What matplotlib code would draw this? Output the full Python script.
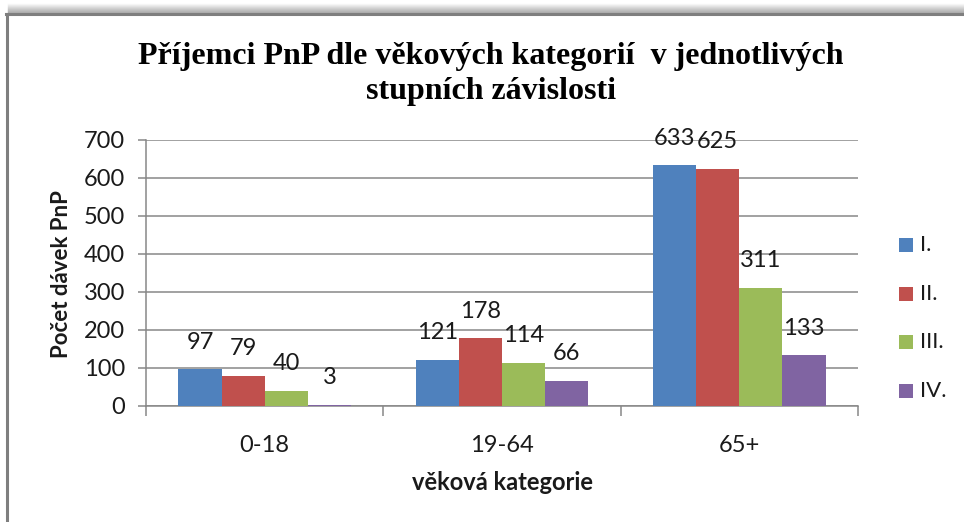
import matplotlib
matplotlib.use("Agg")
import matplotlib.pyplot as plt
import numpy as np
from matplotlib.patches import Rectangle

categories = ["0-18", "19-64", "65+"]
series_names = ["I.", "II.", "III.", "IV."]
values_I = [97, 121, 633]
values_II = [79, 178, 625]
values_III = [40, 114, 311]
values_IV = [3, 66, 133]
colors = ["#4F81BD", "#C0504D", "#9BBB59", "#8064A2"]

sans = ["Lato", "DejaVu Sans"]
serif = ["Liberation Serif", "DejaVu Serif"]

W, H = 964, 522
fig = plt.figure(figsize=(W / 100, H / 100), dpi=100)

# chart frame with shadow on top
for i in range(10):
    fig.add_artist(plt.Line2D([8 / W, 1], [1 - (4 + i) / H] * 2, color="0.5",
                              alpha=0.05 + 0.06 * i, lw=1.0))
fig.add_artist(plt.Line2D([7 / W, 7 / W], [0, 1 - 14 / H], color="#7f7f7f", lw=2.2))
fig.add_artist(plt.Line2D([6 / W, 1], [1 - 14 / H, 1 - 14 / H], color="#7f7f7f", lw=2.2))

ax = fig.add_axes([146 / W, (H - 406) / H, (858 - 146) / W, (406 - 140) / H])

x = np.arange(len(categories))
bw = 1 / 5.5
all_vals = [values_I, values_II, values_III, values_IV]
for k, (vals, c, name) in enumerate(zip(all_vals, colors, series_names)):
    pos = x + (k - 1.5) * bw
    bars = ax.bar(pos, vals, bw, color=c, label=name, zorder=3)
    for b, v in zip(bars, vals):
        ax.annotate(str(v), (b.get_x() + b.get_width() / 2, v), xytext=(0, 19.5),
                    textcoords="offset points", ha="center", va="center",
                    fontsize=17, family=sans, color="#1a1a1a", zorder=4)

ax.set_xlim(-0.5, 2.5)
ax.set_ylim(0, 700)
ax.set_yticks(range(0, 701, 100))
ax.yaxis.grid(True, color="#878787", lw=1.1, zorder=0)
ax.set_xticks(x)
ax.set_xticklabels(categories)
ax.set_xticks([-0.5, 0.5, 1.5, 2.5], minor=True)
ax.tick_params(axis="x", which="major", length=0, pad=21, labelsize=17)
ax.tick_params(axis="x", which="minor", length=7, color="#878787", width=1.1)
ax.tick_params(axis="y", length=6, color="#878787", width=1.1, labelsize=17, pad=9)
for lab in ax.get_xticklabels() + ax.get_yticklabels():
    lab.set_family(sans)
    lab.set_color("#1a1a1a")
for s in ["top", "right"]:
    ax.spines[s].set_visible(False)
for s in ["left", "bottom"]:
    ax.spines[s].set_color("#878787")
    ax.spines[s].set_linewidth(1.1)

fig.text(62 / W, 1 - 274 / H, "Počet dávek PnP", rotation=90, ha="center", va="center",
         fontsize=16, fontweight="bold", family=sans, color="#1a1a1a")
fig.text(502 / W, 1 - 483 / H, "věková kategorie", ha="center", va="center",
         fontsize=17, fontweight="bold", family=sans, color="#1a1a1a")
fig.text(491 / W, 1 - 74 / H,
         "Příjemci PnP dle věkových kategorií  v jednotlivých\nstupních závislosti",
         ha="center", va="center", fontsize=23, fontweight="bold", family=serif,
         linespacing=1.25, color="black")

# legend
leg_y = [245, 294, 342, 391]
for name, c, yy in zip(series_names, colors, leg_y):
    fig.add_artist(Rectangle((899 / W, 1 - (yy + 7) / H), 14 / W, 14 / H,
                             facecolor=c, edgecolor="none", transform=fig.transFigure))
    fig.text(920 / W, 1 - yy / H, name, ha="left", va="center",
             fontsize=16, family=sans, color="#1a1a1a")

fig.savefig("out.png", dpi=100)
